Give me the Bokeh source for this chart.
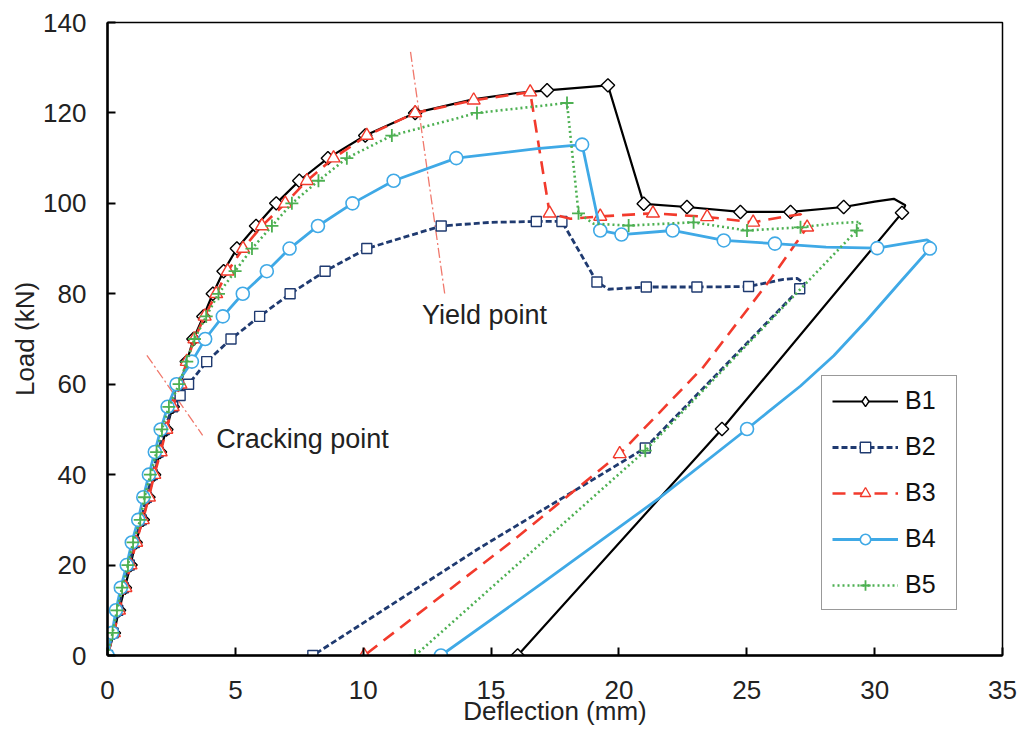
import numpy as np
from bokeh.plotting import figure
from bokeh.models import Range1d, FixedTicker, Legend, LegendItem, Label
from bokeh.embed import file_html
from bokeh.resources import INLINE

# ---------------- data (deflection mm, load kN, marker flag) ----------------
b1_x = [0, 0.25, 0.45, 0.68, 0.9, 1.1, 1.38, 1.6, 1.82, 2.05, 2.3, 2.55, 2.85, 3.1, 3.36,
        3.75, 4.12, 4.54, 5.06, 5.81, 6.6, 7.5, 8.62, 10.08, 12.03, 14.3, 16.0, 17.19, 19.57,
        20.97, 22.66, 24.75, 26.71, 28.79, 30.0, 30.75, 31.2, 31.07, 24.03, 16.04]
b1_y = [0, 5, 10, 15, 20, 25, 30, 35, 40, 45, 50, 55, 60, 65, 70,
        75, 80, 85, 90, 95, 100, 105, 110, 115, 120, 123.0, 124.4, 125.0, 126.1,
        99.9, 99.2, 98.1, 98.1, 99.2, 100.4, 101.0, 99.6, 97.9, 50.1, 0]
b1_m = [1] * 25 + [0, 0] + [1] * 7 + [0, 0, 0] + [1, 1, 1]

b2_x = [0, 0.22, 0.4, 0.62, 0.85, 1.05, 1.32, 1.52, 1.75, 1.98, 2.22, 2.55, 2.84, 3.17, 3.88,
        4.83, 5.95, 7.14, 8.51, 10.14, 13.05, 15.0, 16.77, 17.77, 19.14, 19.6, 21.07, 23.05,
        25.07, 26.44, 26.97, 27.25, 27.07, 21.03, 14.5, 8.03]
b2_y = [0, 5, 10, 15, 20, 25, 30, 35, 40, 45, 50, 55, 57.5, 60, 65,
        70, 75, 80, 85, 90, 95, 95.8, 96.0, 96.0, 82.6, 81.0, 81.5, 81.5,
        81.6, 83.2, 83.4, 82.3, 81.1, 45.9, 23.6, 0]
b2_m = [1] * 21 + [0] + [1] * 3 + [0] + [1] * 3 + [0, 0, 0] + [1, 1, 0, 1]

b3_x = [0, 0.25, 0.45, 0.7, 0.9, 1.12, 1.38, 1.62, 1.83, 2.08, 2.3, 2.55, 2.85, 3.1, 3.4,
        3.8, 4.25, 4.7, 5.3, 6.04, 6.95, 7.8, 8.84, 10.14, 12.03, 14.32, 16.53, 17.29, 18.1,
        19.27, 21.33, 23.45, 25.25, 26.4, 27.1, 27.36, 26.9, 25.9, 23.3, 20.03, 15.9, 10.04]
b3_y = [0, 5, 10, 15, 20, 25, 30, 35, 40, 45, 50, 55, 60, 65, 70,
        75, 80, 85, 90, 95, 100, 105, 110, 115, 120, 122.8, 124.6, 97.8, 96.6,
        97.1, 97.8, 97.0, 95.8, 97.0, 97.6, 94.7, 91.0, 83.0, 63.8, 44.6, 25.6, 0]
b3_m = [1] * 28 + [0] + [1] * 4 + [0, 0] + [1] + [0, 0, 0] + [1, 0, 1]

b4_x = [0, 0.18, 0.33, 0.52, 0.75, 0.95, 1.2, 1.4, 1.62, 1.85, 2.08, 2.35, 2.7, 3.3, 3.82,
        4.51, 5.29, 6.23, 7.12, 8.23, 9.58, 11.19, 13.64, 16.8, 18.56, 19.27, 20.1, 22.1,
        24.1, 26.1, 28.1, 30.1, 31.14, 32.05, 32.25, 32.16, 31.0, 29.7, 28.4, 27.1, 25.8,
        25.01, 21.6, 17.0, 13.04]
b4_y = [0, 5, 10, 15, 20, 25, 30, 35, 40, 45, 50, 55, 60, 65, 70,
        75, 80, 85, 90, 95, 100, 105, 110, 112.1, 113.0, 94.0, 93.1, 94.0,
        91.8, 91.1, 90.3, 90.1, 91.1, 91.9, 91.2, 90.0, 82.6, 74.2, 66.3, 59.6, 53.7,
        50.1, 34.9, 16.0, 0]
b4_m = [1] * 23 + [0] + [1] * 6 + [0] + [1] + [0, 0, 0] + [1] + [0] * 5 + [1, 0, 0, 1]

b5_x = [0, 0.2, 0.37, 0.57, 0.8, 1.0, 1.28, 1.45, 1.68, 1.92, 2.13, 2.4, 2.8, 3.1, 3.4,
        3.86, 4.34, 4.99, 5.65, 6.43, 7.21, 8.25, 9.36, 11.12, 14.45, 17.97, 18.42, 19.01,
        20.38, 22.92, 25.01, 27.1, 28.5, 29.45, 29.3, 21.03, 12.03]
b5_y = [0, 5, 10, 15, 20, 25, 30, 35, 40, 45, 50, 55, 60, 65, 70,
        75, 80, 85, 90, 95, 100, 105, 110, 115, 120, 122.2, 97.8, 95.5,
        95.1, 95.8, 94.0, 94.7, 95.6, 95.9, 94.0, 45.3, 0]
b5_m = [1] * 27 + [0] + [1] * 4 + [0, 0] + [1, 1, 1]

# guide lines and notes
yield_x = [11.85, 13.2]
yield_y = [133.5, 79.5]
crack_x = [1.54, 3.72]
crack_y = [66.4, 48.7]
notes = [("Yield point", 12.3, 75.2), ("Cracking point", 4.25, 47.8)]

x_ticks = [0, 5, 10, 15, 20, 25, 30, 35]
y_ticks = [0, 20, 40, 60, 80, 100, 120, 140]

FONT = "Liberation Sans"

p = figure(width=1019, height=746, output_backend="svg", toolbar_location=None,
           x_range=Range1d(0, 35), y_range=Range1d(0, 140),
           min_border_left=107, min_border_right=17, min_border_top=22, min_border_bottom=91,
           background_fill_color="white", border_fill_color="white")
p.xgrid.visible = False
p.ygrid.visible = False
p.outline_line_color = "black"
p.outline_line_width = 1.5
p.outline_line_alpha = 1

for ax, ticks in ((p.xaxis[0], x_ticks), (p.yaxis[0], y_ticks)):
    ax.ticker = FixedTicker(ticks=ticks)
    ax.major_tick_in = 8
    ax.major_tick_out = 0
    ax.minor_tick_line_color = None
    ax.axis_line_width = 2.5
    ax.axis_line_color = "black"
    ax.major_tick_line_width = 2
    ax.major_tick_line_color = "black"
    ax.major_label_text_font = FONT
    ax.major_label_text_font_size = "26px"
    ax.major_label_text_color = "#222222"
    ax.axis_label_text_font = FONT
    ax.axis_label_text_font_size = "26px"
    ax.axis_label_text_font_style = "normal"
    ax.axis_label_text_color = "#222222"

p.xaxis.axis_label = "Deflection (mm)"
p.yaxis.axis_label = "Load (kN)"
p.xaxis.major_label_standoff = 25
p.xaxis.axis_label_standoff = -6
p.yaxis.major_label_standoff = 21
p.yaxis.axis_label_standoff = 0

# guide lines
p.line(yield_x, yield_y, line_color="#F0786C", line_width=1.3, line_dash="10 3 2 3")
p.line(crack_x, crack_y, line_color="#F0786C", line_width=1.3, line_dash="10 3 2 3")
for txt, tx, ty in notes:
    p.add_layout(Label(x=tx, y=ty, text=txt, text_font=FONT, text_font_size="27px",
                       text_color="#222222", text_baseline="middle", text_align="left"))

series = [
    ("B1", b1_x, b1_y, b1_m, dict(line_color="black", line_width=2.2),
     dict(marker="square", size=9.5, angle=np.pi / 4, line_color="black", fill_color="white", line_width=1.4),
     dict(marker="diamond", size=12, line_color="black", fill_color="white", line_width=1.4)),
    ("B2", b2_x, b2_y, b2_m, dict(line_color="#1F3A70", line_width=2.8, line_dash="6 3"),
     dict(marker="square", size=10, line_color="#1F3A70", fill_color="white", line_width=1.4),
     dict(marker="square", size=8, line_color="#1F3A70", fill_color="white", line_width=1.4)),
    ("B3", b3_x, b3_y, b3_m, dict(line_color="#F23A2C", line_width=2.6, line_dash="13 8"),
     dict(marker="triangle", size=13, line_color="#F23A2C", fill_color="white", line_width=1.4),
     dict(marker="triangle", size=10, line_color="#F23A2C", fill_color="white", line_width=1.4)),
    ("B4", b4_x, b4_y, b4_m, dict(line_color="#3FA9E6", line_width=2.8),
     dict(marker="circle", size=13, line_color="#3FA9E6", fill_color="white", line_width=1.6),
     dict(marker="circle", size=10, line_color="#3FA9E6", fill_color="white", line_width=1.6)),
    ("B5", b5_x, b5_y, b5_m, dict(line_color="#4DB052", line_width=2.6, line_dash="2 3"),
     dict(marker="cross", size=13, line_color="#4DB052", line_width=1.8),
     dict(marker="cross", size=11, line_color="#4DB052", line_width=1.8)),
]

items = []
nan = [float("nan")]
for name, xs, ys, ms, lkw, mkw, legkw in series:
    p.line(xs, ys, **lkw)
    mx = [x for x, m in zip(xs, ms) if m]
    my = [y for y, m in zip(ys, ms) if m]
    p.scatter(mx, my, **mkw)
    # legend-only renderers (no visible data)
    ll = p.line(nan, nan, **lkw)
    lm = p.scatter(nan, nan, **legkw)
    items.append(LegendItem(label=name, renderers=[ll, lm]))

legend = Legend(items=items, location=(714, 45), orientation="vertical",
                label_text_font=FONT, label_text_font_size="25px", label_text_color="#111111",
                glyph_width=66, glyph_height=26, label_height=26, label_standoff=7,
                spacing=17, padding=10, label_width=41,
                border_line_color="#333333", border_line_width=1.5,
                background_fill_color="white", background_fill_alpha=1)
p.add_layout(legend, "center")

open("out.html", "w").write(file_html(p, INLINE))
